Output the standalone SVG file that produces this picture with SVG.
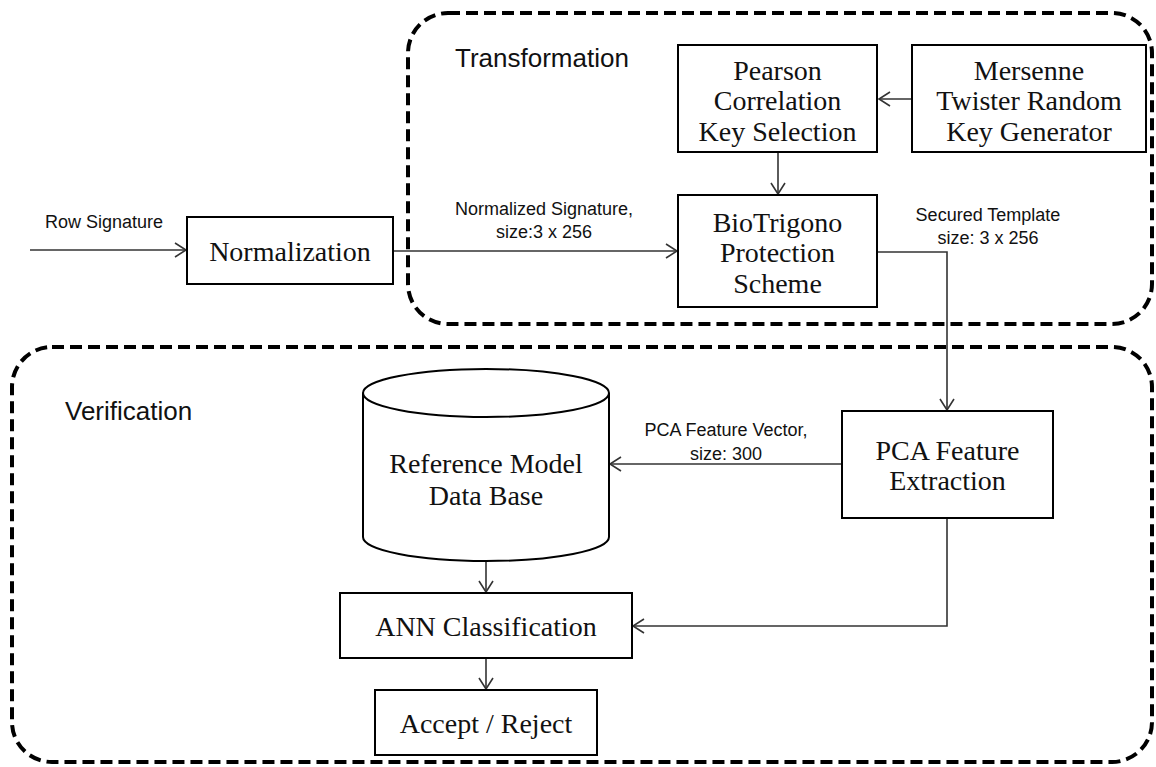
<svg xmlns="http://www.w3.org/2000/svg" width="1156" height="767" viewBox="0 0 1156 767">
<style>
.box{fill:#fff;stroke:#000;stroke-width:2}
.zone{fill:none;stroke:#000;stroke-width:4;stroke-dasharray:12 6}
.conn{fill:none;stroke:#333;stroke-width:1.6}
.serif{font-family:"Liberation Serif","Times New Roman",serif;font-size:28px;fill:#111;text-anchor:middle}
.lbl{font-family:"Liberation Sans",Arial,sans-serif;font-size:18px;fill:#111}
.hdr{font-family:"Liberation Sans",Arial,sans-serif;font-size:26px;fill:#111}
</style>
<defs>
<marker id="arr" markerUnits="userSpaceOnUse" markerWidth="14" markerHeight="16" refX="12" refY="8" orient="auto">
<path d="M1,1 L12,8 L1,15" fill="none" stroke="#333" stroke-width="1.6"/>
</marker>
</defs>
<rect width="1156" height="767" fill="#fff"/>
<g id="zones">
<rect class="zone" x="408" y="13" width="744" height="311" rx="40"/>
<rect class="zone" x="12" y="347" width="1140" height="415" rx="40"/>
<text class="hdr" x="455" y="67">Transformation</text>
<text class="hdr" x="65" y="420">Verification</text>
</g>
<g id="connectors">
<path class="conn" d="M30 250 H186" marker-end="url(#arr)"/>
<path class="conn" d="M393 251 H677" marker-end="url(#arr)"/>
<path class="conn" d="M912 99 H879" marker-end="url(#arr)"/>
<path class="conn" d="M778 153 V194" marker-end="url(#arr)"/>
<path class="conn" d="M878 252 H947 V410" marker-end="url(#arr)"/>
<path class="conn" d="M842 464 H610" marker-end="url(#arr)"/>
<path class="conn" d="M947 518 V626 H633" marker-end="url(#arr)"/>
<path class="conn" d="M486 561 V592" marker-end="url(#arr)"/>
<path class="conn" d="M486 658 V689" marker-end="url(#arr)"/>
<text class="lbl" x="45" y="228">Row Signature</text>
<text class="lbl" x="544" y="215" text-anchor="middle">Normalized Signature,</text>
<text class="lbl" x="544" y="238" text-anchor="middle">size:3 x 256</text>
<text class="lbl" x="988" y="221" text-anchor="middle">Secured Template</text>
<text class="lbl" x="988" y="244" text-anchor="middle">size: 3 x 256</text>
<text class="lbl" x="726" y="436" text-anchor="middle">PCA Feature Vector,</text>
<text class="lbl" x="726" y="460" text-anchor="middle">size: 300</text>
</g>
<g id="normalization">
<rect class="box" x="187" y="217" width="206" height="67"/>
<text class="serif" x="290" y="261">Normalization</text>
</g>
<g id="pearson">
<rect class="box" x="678" y="45" width="199" height="107"/>
<text class="serif" x="777.5" y="80">Pearson</text>
<text class="serif" x="777.5" y="110">Correlation</text>
<text class="serif" x="777.5" y="141">Key Selection</text>
</g>
<g id="mersenne">
<rect class="box" x="912" y="45" width="234" height="107"/>
<text class="serif" x="1029" y="80">Mersenne</text>
<text class="serif" x="1029" y="110">Twister Random</text>
<text class="serif" x="1029" y="141">Key Generator</text>
</g>
<g id="biotrigono">
<rect class="box" x="678" y="195" width="199" height="112"/>
<text class="serif" x="777.5" y="232">BioTrigono</text>
<text class="serif" x="777.5" y="262">Protection</text>
<text class="serif" x="777.5" y="293">Scheme</text>
</g>
<g id="database">
<path class="box" d="M363 393 V537 A123 24 0 0 0 609 537 V393 A123 24 0 0 0 363 393 Z"/>
<path fill="none" stroke="#000" stroke-width="2" d="M363 393 A123 24 0 0 0 609 393"/>
<text class="serif" x="486" y="473">Reference Model</text>
<text class="serif" x="486" y="505">Data Base</text>
</g>
<g id="pca">
<rect class="box" x="842" y="411" width="211" height="107"/>
<text class="serif" x="947.5" y="460">PCA Feature</text>
<text class="serif" x="947.5" y="490">Extraction</text>
</g>
<g id="ann">
<rect class="box" x="340" y="593" width="292" height="65"/>
<text class="serif" x="486" y="636">ANN Classification</text>
</g>
<g id="accept">
<rect class="box" x="375" y="690" width="222" height="65"/>
<text class="serif" x="486" y="733">Accept / Reject</text>
</g>
</svg>
